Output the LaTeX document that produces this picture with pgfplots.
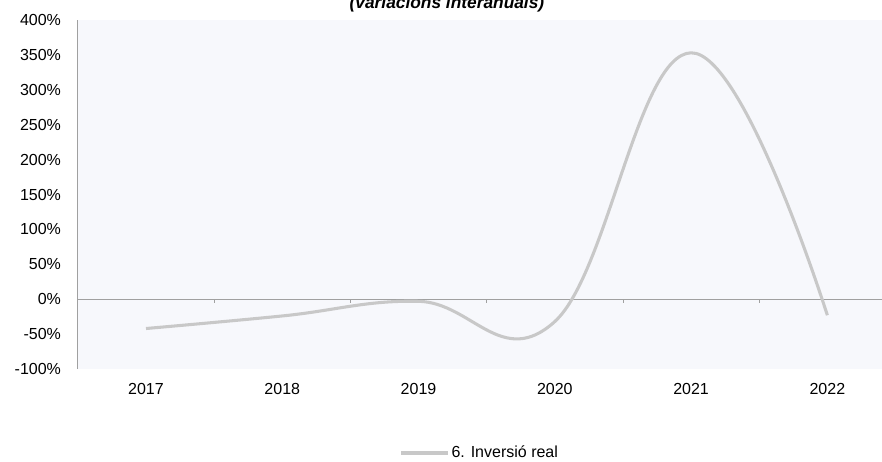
\documentclass[border=0pt]{standalone}
\usepackage{fontspec}
\setmainfont{Liberation Sans}
\usepackage{pgfplots}
\pgfplotsset{compat=1.18}
\definecolor{plotbg}{HTML}{F7F8FC}
\definecolor{serie}{HTML}{C8C8C8}
\definecolor{axisgray}{HTML}{A0A0A0}
\begin{document}
\begin{tikzpicture}
\begin{axis}[
  name=ax,
  scale only axis,
  width=603pt,
  height=261.75pt,
  xmin=-0.5, xmax=5.4,
  ymin=-100, ymax=400,
  ytick distance=50,
  xtick={0,...,5},
  xticklabels={2017,2018,2019,2020,2021,2022},
  axis y line=left,
  axis x line=bottom,
  x axis line style={draw=none},
  y axis line style={-, draw=axisgray, line width=0.8pt},
  xtick style={draw=none},
  ytick style={draw=none},
  /pgf/number format/assume math mode=true,
  tick label style={font=\fontsize{12}{14}\selectfont},
  yticklabel={\pgfmathprintnumber{\tick}\%},
  yticklabel style={xshift=-7pt},
  xticklabel style={yshift=-5pt},
  axis background/.style={fill=plotbg},
  clip=false,
  legend style={
    at={(axis description cs:0.5,-0.2407)},
    anchor=center,
    draw=none, fill=none,
    font=\fontsize{12}{14}\selectfont,
    nodes={inner xsep=1.5pt},
  },
  legend image code/.code={\draw[#1] (0pt,0pt) -- (35pt,0pt);},
]
  \draw[axisgray, line width=0.8pt] (axis cs:-0.5,0) -- (axis cs:5.4,0);
  \pgfplotsinvokeforeach{0.5,1.5,2.5,3.5,4.5}{
    \draw[axisgray, line width=0.6pt] (axis cs:#1,0) -- ++(0pt,-3pt);
  }
  \addplot[serie, line width=2.3pt, smooth, tension=0.7, no markers] coordinates {
    (0, -42)
    (1, -24)
    (2, -3)
    (3, -32)
    (4, 353)
    (5, -23)
  };
  \addlegendentry{6. Inversió real}
\end{axis}
\node[anchor=base, font=\fontsize{13}{15}\selectfont\bfseries\itshape]
  at ([xshift=276.8pt, yshift=8.25pt]ax.north west) {(variacions interanuals)};
\pgfresetboundingbox
\path (ax.south west) ++(-58.4pt,-69pt) rectangle ++(661.5pt,345.75pt);
\end{tikzpicture}
\end{document}
